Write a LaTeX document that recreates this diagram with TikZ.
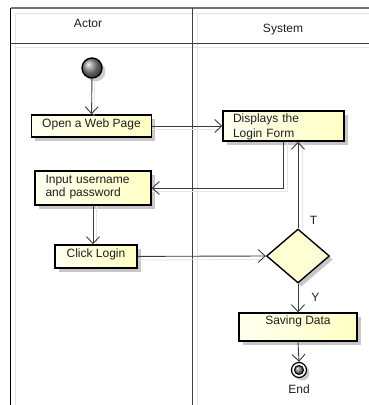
\documentclass[tikz,border=0pt]{standalone}
\usepackage{fontspec}
\setmainfont{Liberation Sans}
\usetikzlibrary{arrows.meta,shapes.geometric,shadows}

\definecolor{boxL}{RGB}{255,255,240}
\definecolor{boxR}{RGB}{255,255,196}
\definecolor{diaFill}{RGB}{255,255,214}
\definecolor{wire}{RGB}{60,60,60}
\definecolor{faint}{RGB}{228,228,228}
\definecolor{ink}{RGB}{30,30,30}

\tikzset{
  every node/.style={font=\fontsize{12}{14}\selectfont, text=ink},
  actbox/.style={draw=black, line width=1.4pt, rectangle,
    left color=boxL, right color=boxR, shading angle=90,
    inner xsep=0pt, inner ysep=0pt, text height=9pt,
    drop shadow={shadow xshift=3.5pt, shadow yshift=-3.5pt, opacity=0.22, fill=black}},
  decision/.style={draw=black, line width=1.4pt, diamond, fill=diaFill,
    minimum width=63pt, minimum height=54pt, inner sep=0pt, aspect=1.17,
    drop shadow={shadow xshift=3.5pt, shadow yshift=-3.5pt, opacity=0.22, fill=black}},
  flow/.style={draw=wire, line width=0.9pt,
    -{Straight Barb[length=7pt,width=13pt,line width=0.9pt]}},
  flowshade/.style={draw=faint, line width=0.9pt},
  lane/.style={draw=black!75, line width=1pt},
  laneshade/.style={draw=faint, line width=1pt},
}

\begin{document}
\begin{tikzpicture}[x=1pt,y=-1pt]
\useasboundingbox (0,0) rectangle (369,405);

% swimlane frame
\draw[laneshade] (15,405) -- (15,13) -- (369,13);
\draw[laneshade] (15,47.5) -- (369,47.5);
\draw[laneshade] (197.5,13) -- (197.5,405);
\draw[draw=black!55, line width=1.4pt] (10.5,8) -- (369,8);
\draw[draw=black, line width=1pt] (10.5,8) -- (10.5,405);
\draw[lane] (10.5,43) -- (369,43);
\draw[lane] (192.5,8) -- (192.5,405);
\node[anchor=base] (hactor) at (88,27.3) {Actor};
\node[anchor=base] (hsystem) at (283,32) {System};

% initial and final nodes
\node[circle, draw=black, line width=1.4pt, minimum size=20pt, inner sep=0pt,
      shading=ball, ball color=black!45,
      drop shadow={shadow xshift=3.5pt, shadow yshift=-3.5pt, opacity=0.2, fill=black}]
      (start) at (92,68) {};
\node[circle, draw=black, line width=1.2pt, fill=white, minimum size=15pt, inner sep=0pt,
      drop shadow={shadow xshift=3pt, shadow yshift=-3pt, opacity=0.2, fill=black}]
      (end) at (299,370) {};
\node[circle, draw=black, line width=1pt, minimum size=9pt, inner sep=0pt,
      shading=ball, ball color=black!45] (endin) at (end.center) {};
\node[anchor=base] (endlbl) at (299,393.3) {End};

% actions
\node[actbox, minimum width=120pt, minimum height=22pt, text depth=6.4pt]
  (open) at (91.5,126) {Open a Web Page};
\node[actbox, minimum width=121pt, minimum height=30pt, inner xsep=10pt,
      text width=101pt, align=left, text depth=16.4pt,
      font=\fontsize{12}{14.7}\selectfont]
  (disp) at (283.5,126) {Displays the\\Login Form};
\node[actbox, minimum width=116pt, minimum height=34pt, inner xsep=10.5pt,
      text width=95pt, align=left, text depth=18.4pt,
      font=\fontsize{12}{13}\selectfont]
  (input) at (93,188) {Input username\\and password};
\node[actbox, minimum width=82pt, minimum height=23pt, text depth=7.4pt]
  (click) at (96,256.5) {Click Login};
\node[actbox, minimum width=118pt, minimum height=28pt, text depth=14.4pt]
  (save) at (298,327) {Saving Data};
\node[decision] (dec) at (298,256) {};

% faint connector shadows
\draw[flowshade] ([shift={(2.5,3)}]start.south) -- ([shift={(2.5,3)}]open.north);
\draw[flowshade] ([shift={(0,3.5)}]open.east) -- ([shift={(0,3.5)}]disp.west);
\draw[flowshade] ([shift={(3.5,0)}]disp.south) |- ([shift={(0,3.5)}]input.east);
\draw[flowshade] ([shift={(3,0)}]input.south) -- ([shift={(3,0)}]input.south |- click.north);
\draw[flowshade] ([shift={(0,3.5)}]click.east) -- ([shift={(0,3.5)}]dec.west);
\draw[flowshade] ([shift={(4,0)}]dec.north) -- ([shift={(4,0)}]dec.north |- disp.south);

% control flow
\draw[flow] (start) -- (open);
\draw[flow] (open) -- (disp);
\draw[flow] (disp.south) |- (input.east);
\draw[flow] (input.south) -- (input.south |- click.north);
\draw[flow] (click) -- (dec.west);
\draw[flow] (dec.north) -- (dec.north |- disp.south);
\draw[flow] (dec.south) -- (save.north);
\draw[flow] (save.south) -- (end.north);

% guards
\node[anchor=base] (gT) at (313.5,224) {T};
\node[anchor=base] (gY) at (315.5,301) {Y};
\end{tikzpicture}
\end{document}
